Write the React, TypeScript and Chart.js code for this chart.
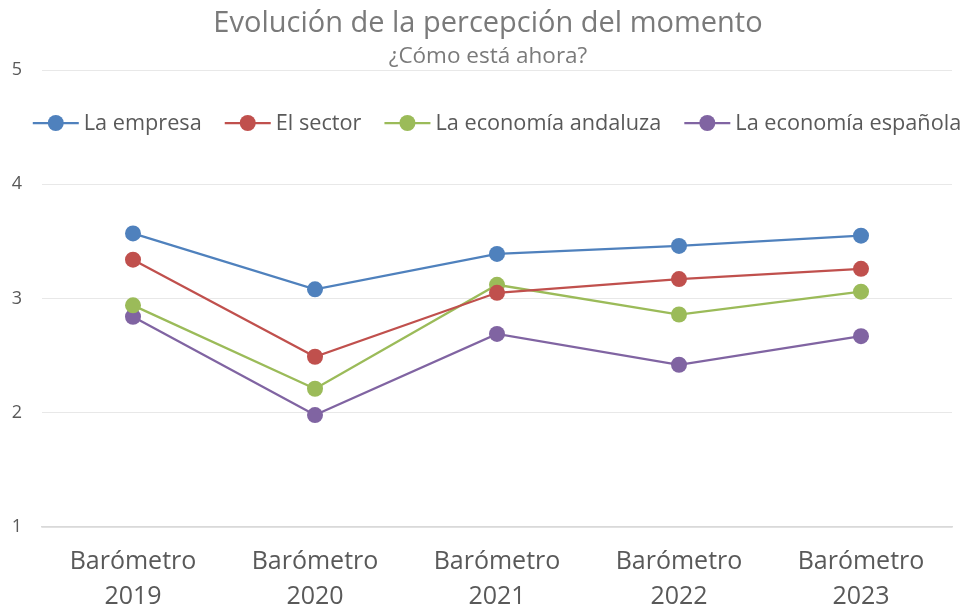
import { useEffect, useRef } from "react";
import { Chart, registerables } from "chart.js";

Chart.register(...registerables);

const categories: string[][] = [
  ["Barómetro", "2019"],
  ["Barómetro", "2020"],
  ["Barómetro", "2021"],
  ["Barómetro", "2022"],
  ["Barómetro", "2023"],
];
const seriesNames = ["La empresa", "El sector", "La economía andaluza", "La economía española"];
const empresa = [3.57, 3.08, 3.39, 3.46, 3.55];
const sector = [3.34, 2.49, 3.05, 3.17, 3.26];
const andaluza = [2.94, 2.21, 3.12, 2.86, 3.06];
const espanola = [2.84, 1.98, 2.69, 2.42, 2.67];
const seriesColors = ["#4f81bd", "#c0504d", "#9bbb59", "#8064a2"];
const yMin = 1;
const yMax = 5;
const yStep = 1;
const titleText = "Evolución de la percepción del momento";
const subtitleText = "¿Cómo está ahora?";

const FONT = "'Open Sans', 'Noto Sans', sans-serif";

const headerLegendPlugin = {
  id: "headerLegend",
  afterDraw(chart: any) {
    const { ctx, chartArea } = chart;
    ctx.save();
    // Title
    ctx.fillStyle = "#7a7a7a";
    ctx.textAlign = "center";
    ctx.textBaseline = "alphabetic";
    ctx.font = `29px ${FONT}`;
    ctx.fillText(titleText, 488, 32);
    ctx.font = `22.5px ${FONT}`;
    ctx.fillText(subtitleText, 488, 63);

    // Legend
    ctx.font = `21.7px ${FONT}`;
    const lineW = 46;
    const gapText = 5;
    const gapItem = 23;
    const widths = seriesNames.map((n) => ctx.measureText(n).width);
    let total = 0;
    widths.forEach((w, i) => {
      total += lineW + gapText + w + (i > 0 ? gapItem : 0);
    });
    let x = (chartArea.left + chartArea.right) / 2 - total / 2;
    const y = 123;
    seriesNames.forEach((name, i) => {
      const c = seriesColors[i];
      ctx.strokeStyle = c;
      ctx.lineWidth = 2.25;
      ctx.beginPath();
      ctx.moveTo(x, y);
      ctx.lineTo(x + lineW, y);
      ctx.stroke();
      ctx.fillStyle = c;
      ctx.beginPath();
      ctx.arc(x + lineW / 2, y, 8, 0, Math.PI * 2);
      ctx.fill();
      ctx.fillStyle = "#595959";
      ctx.textAlign = "left";
      ctx.textBaseline = "middle";
      ctx.fillText(name, x + lineW + gapText, y + 1);
      x += lineW + gapText + widths[i] + gapItem;
    });
    ctx.restore();
  },
};

export default function App() {
  const canvasRef = useRef<HTMLCanvasElement | null>(null);

  useEffect(() => {
    document.body.style.margin = "0";
    const canvas = canvasRef.current;
    if (!canvas) return;
    const allSeries = [empresa, sector, andaluza, espanola];
    const chart = new Chart(canvas, {
      type: "line",
      data: {
        labels: categories,
        datasets: allSeries.map((values, i) => ({
          label: seriesNames[i],
          data: values,
          borderColor: seriesColors[i],
          backgroundColor: seriesColors[i],
          pointBackgroundColor: seriesColors[i],
          pointBorderColor: seriesColors[i],
          borderWidth: 2.25,
          pointRadius: 8,
          pointHoverRadius: 8,
          pointBorderWidth: 0,
          tension: 0,
          fill: false,
        })),
      },
      options: {
        responsive: true,
        maintainAspectRatio: false,
        animation: false,
        layout: { padding: { top: 70, right: 14, left: 0, bottom: 0 } },
        plugins: {
          legend: { display: false },
          title: { display: false },
          tooltip: { enabled: false },
        },
        scales: {
          x: {
            offset: true,
            grid: { display: false, drawTicks: false },
            border: { display: true, color: "#d9d9d9", width: 1.5 },
            ticks: {
              color: "#595959",
              font: { family: FONT, size: 25, lineHeight: 1.4 },
              padding: 17,
              maxRotation: 0,
              autoSkip: false,
            },
            afterFit: (scale: any) => {
              scale.height = 83;
            },
          },
          y: {
            min: yMin,
            max: yMax,
            grid: { color: "#e8e8e8", lineWidth: 1, drawTicks: false },
            border: { display: false },
            ticks: {
              stepSize: yStep,
              color: "#595959",
              font: { family: FONT, size: 18 },
              padding: 20,
            },
            afterFit: (scale: any) => {
              scale.width = 42;
            },
          },
        },
      },
      plugins: [headerLegendPlugin],
    });
    return () => chart.destroy();
  }, []);

  return (
    <div style={{ position: "relative", width: 966, height: 610 }}>
      <canvas ref={canvasRef} />
    </div>
  );
}
